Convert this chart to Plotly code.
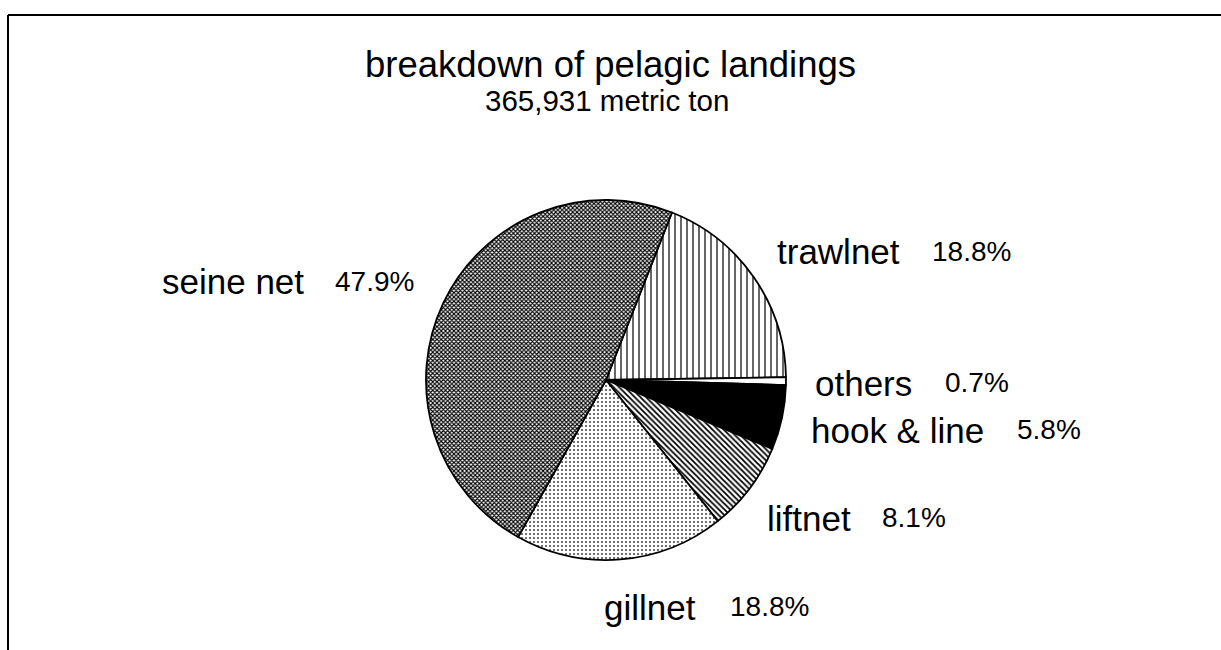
import plotly.graph_objects as go

# ---- data ----
categories = ["trawlnet", "others", "hook & line", "liftnet", "gillnet", "seine net"]
shares = [18.8, 0.7, 5.8, 8.1, 18.8, 47.9]
title_text = "breakdown of pelagic landings"
subtitle_text = "365,931 metric ton"

# ---- styles ----
W, H = 1221, 650
patterns = [
    dict(shape="|", fgcolor="black", bgcolor="white", size=6, solidity=0.2),
    dict(shape="", fgcolor="white", bgcolor="white"),
    dict(shape="", fgcolor="black", bgcolor="black"),
    dict(shape="\\", fgcolor="black", bgcolor="white", size=4, solidity=0.45),
    dict(shape=".", fgcolor="#333333", bgcolor="white", size=4, solidity=0.17),
    dict(shape="x", fgcolor="black", bgcolor="white", size=3, solidity=0.6),
]
fill_colors = ["white", "white", "black", "white", "white", "#8a8a8a"]

# label layout (pixel positions: name left edge, pct left edge, vertical centre)
label_pos = [
    (775, 930, 252),
    (813, 943, 383),
    (809, 1015, 430),
    (765, 880, 518),
    (602, 728, 607),
    (160, 333, 282),
]

cx, cy, r = 606, 380, 180


def px(x):
    return x / W


def py(y):
    return 1 - y / H


fig = go.Figure(go.Pie(
    labels=categories,
    values=shares,
    sort=False,
    direction="clockwise",
    rotation=21.5,
    textinfo="none",
    hoverinfo="label+percent",
    marker=dict(colors=fill_colors, pattern=dict(
        shape=[p["shape"] for p in patterns],
        fgcolor=[p["fgcolor"] for p in patterns],
        bgcolor=[p["bgcolor"] for p in patterns],
        size=[p.get("size", 8) for p in patterns],
        solidity=[p.get("solidity", 0.3) for p in patterns],
    ), line=dict(color="black", width=1.8)),
    domain=dict(x=[px(cx - r), px(cx + r)], y=[py(cy + r), py(cy - r)]),
    showlegend=False,
))

font_family = "Liberation Sans, Arial, Helvetica, sans-serif"
annotations = []
for name, val, (nx, pxl, yc) in zip(categories, shares, label_pos):
    annotations.append(dict(x=px(nx), y=py(yc), xref="paper", yref="paper",
                            text=name, showarrow=False, xanchor="left", yanchor="middle",
                            font=dict(family=font_family, size=35, color="black")))
    annotations.append(dict(x=px(pxl), y=py(yc - 1), xref="paper", yref="paper",
                            text=f"{val}%", showarrow=False, xanchor="left", yanchor="middle",
                            font=dict(family=font_family, size=28, color="black")))

annotations.append(dict(x=px(610), y=py(65), xref="paper", yref="paper", text=title_text,
                        showarrow=False, xanchor="center", yanchor="middle",
                        font=dict(family=font_family, size=36.5, color="black")))
annotations.append(dict(x=px(607), y=py(100), xref="paper", yref="paper", text=subtitle_text,
                        showarrow=False, xanchor="center", yanchor="middle",
                        font=dict(family=font_family, size=29.5, color="black")))

shapes = [
    dict(type="line", xref="paper", yref="paper", x0=px(8), x1=1, y0=py(15), y1=py(15),
         line=dict(color="black", width=2)),
    dict(type="line", xref="paper", yref="paper", x0=px(8), x1=px(8), y0=0, y1=py(15),
         line=dict(color="black", width=2)),
]

fig.update_layout(
    width=W, height=H,
    margin=dict(l=0, r=0, t=0, b=0),
    paper_bgcolor="white", plot_bgcolor="white",
    annotations=annotations, shapes=shapes,
)

fig.write_html(
    "out.html",
    config={"displayModeBar": False},
    post_script="document.body.style.margin='0';document.body.style.overflow='hidden';",
)
